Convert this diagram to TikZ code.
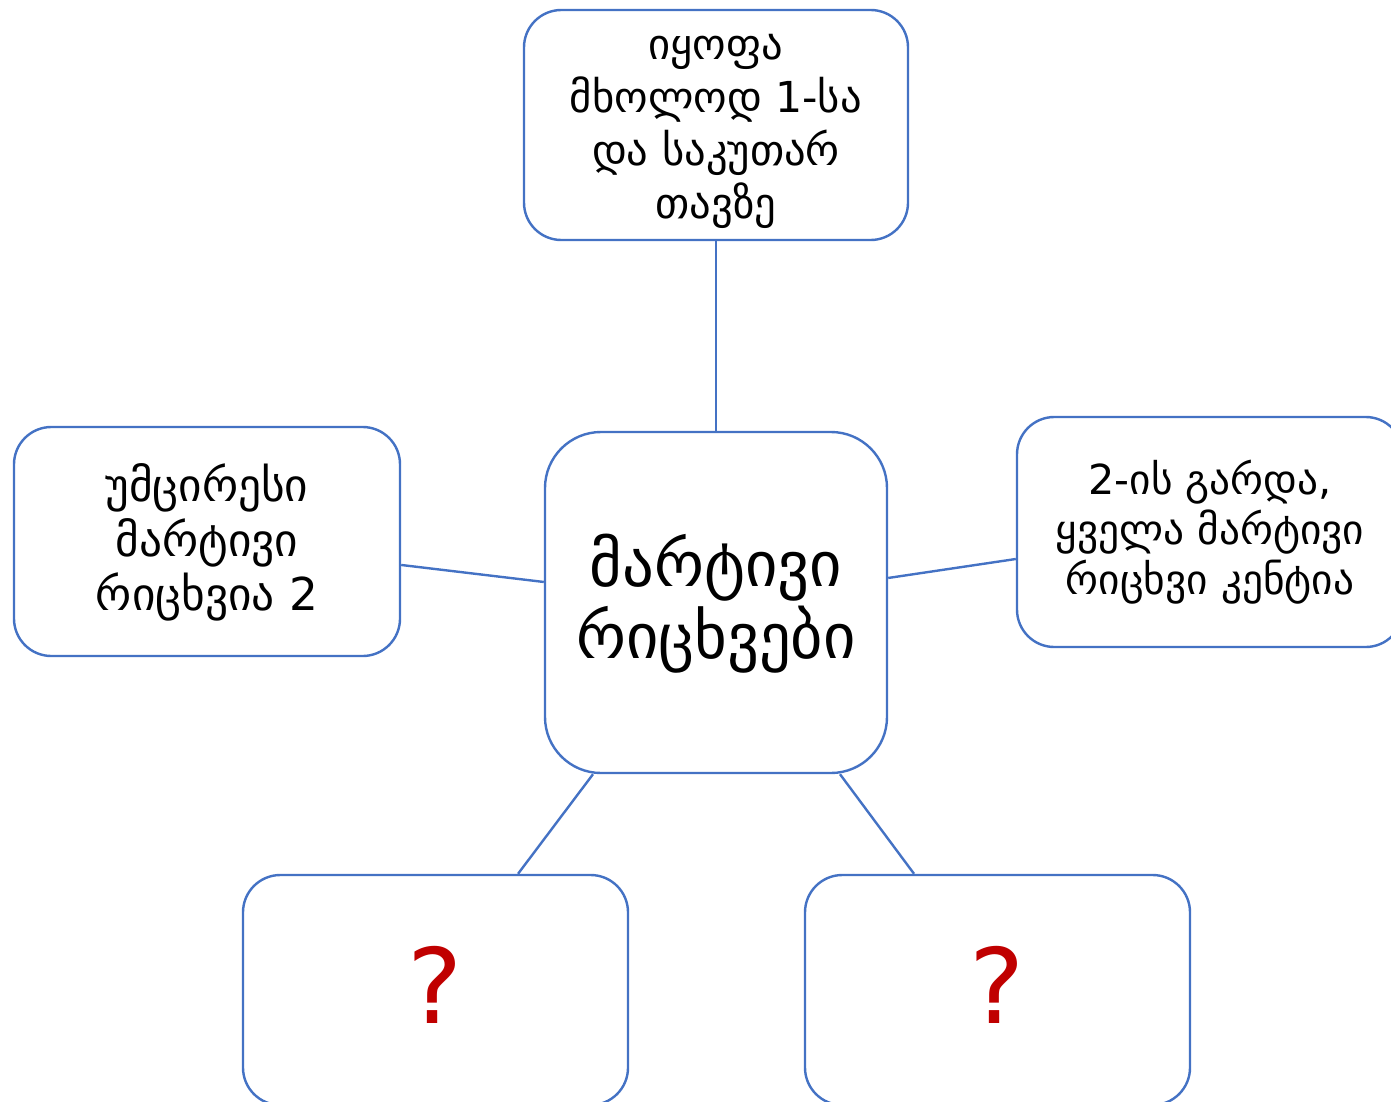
\documentclass[tikz,border=0pt]{standalone}
\usepackage{fontspec}
\setmainfont{DejaVu Sans}
\definecolor{boxblue}{HTML}{4472C4}
\definecolor{qred}{HTML}{C00000}
\begin{document}
\begin{tikzpicture}[x=0.75pt,y=-0.75pt,
  box/.style={draw=boxblue,line width=1.8pt,fill=white,rounded corners=28pt,align=center,inner sep=0pt},
  lbl/.style={align=center,inner sep=0pt},
  conn/.style={draw=boxblue,line width=1.8pt}]
\path[use as bounding box] (0,0) rectangle (1391,1102);
\clip (0,0) rectangle (1391,1102);
\node[box,minimum width=288pt,minimum height=172.5pt] (T) at (716,125) {};
\node[lbl,font=\fontsize{32}{39.75}\selectfont] (Tt) at (716,131.5)
  {იყოფა\\მხოლოდ 1-სა\\და საკუთარ\\თავზე};
\node[box,minimum width=256.5pt,minimum height=255.75pt,rounded corners=42pt] (C) at (716,602.5) {};
\node[lbl,font=\fontsize{47}{54}\selectfont] (Ct) at (716,604)
  {მარტივი\\რიცხვები};
\node[box,minimum width=289.5pt,minimum height=171.75pt] (L) at (207,541.5) {};
\node[lbl,font=\fontsize{34}{41}\selectfont] (Lt) at (207,542.5)
  {უმცირესი\\მარტივი\\რიცხვია 2};
\node[box,minimum width=289.5pt,minimum height=172.5pt,font=\fontsize{31}{37.5}\selectfont] (R) at (1210,532)
  {2-ის გარდა,\\ყველა მარტივი\\რიცხვი კენტია};
\node[box,minimum width=288.75pt,minimum height=172.5pt] (BL) at (435.5,990) {};
\node[box,minimum width=288.75pt,minimum height=172.5pt] (BR) at (997.5,990) {};
\node[lbl,text=qred,font=\fontsize{78}{84}\selectfont] (BLq) at (435.5,985) {?};
\node[lbl,text=qred,font=\fontsize{78}{84}\selectfont] (BRq) at (997.5,985) {?};
\draw[conn] (T.south) -- (C.north);
\draw[conn] ([yshift=-17.6pt]L.east) -- ([yshift=15.4pt]C.west);
\draw[conn] ([yshift=18.4pt]C.east) -- ([yshift=-20.25pt]R.west);
\draw[conn] ([xshift=-92.25pt]C.south) -- ([xshift=61.9pt]BL.north);
\draw[conn] ([xshift=93pt]C.south) -- ([xshift=-62.6pt]BR.north);
\end{tikzpicture}
\end{document}
